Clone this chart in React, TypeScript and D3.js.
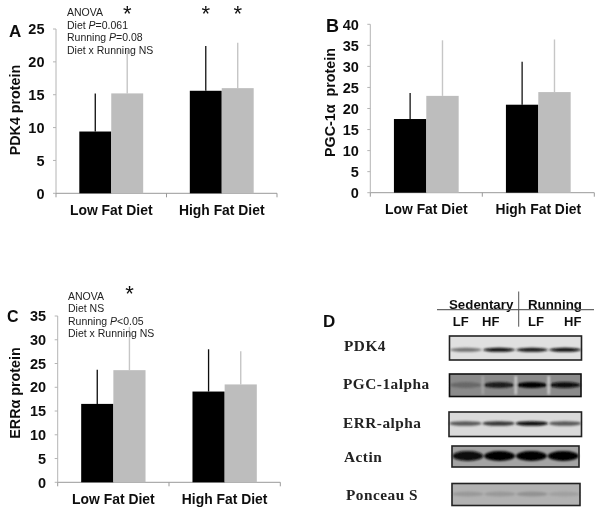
import React from "react";
import * as d3 from "d3";

const groups = ["Low Fat Diet", "High Fat Diet"];
const sedentaryA = [9.4, 15.6];
const runningA = [15.2, 16];
const sedentaryTopA = [15.2, 22.4];
const runningTopA = [21.8, 22.9];
const ticksA = [0, 5, 10, 15, 20, 25];
const notesA = ["ANOVA", "Diet |P|=0.061", "Running |P|=0.08", "Diet x Running NS"];

const sedentaryB = [17.5, 20.9];
const runningB = [23, 23.9];
const sedentaryTopB = [23.7, 31.1];
const runningTopB = [36.2, 36.4];
const ticksB = [0, 5, 10, 15, 20, 25, 30, 35, 40];

const sedentaryC = [16.5, 19.1];
const runningC = [23.6, 20.6];
const sedentaryTopC = [23.7, 28];
const runningTopC = [32.7, 27.6];
const ticksC = [0, 5, 10, 15, 20, 25, 30, 35];
const notesC = ["ANOVA", "Diet NS", "Running |P|<0.05", "Diet x Running NS"];

const lanes = ["LF1", "HF1", "LF2", "HF2"];
const blotNames = ["PDK4", "PGC-1alpha", "ERR-alpha", "Actin", "Ponceau S"];
const blotPdk4 = [0.5, 0.95, 0.9, 0.95];
const blotPgc = [0.25, 0.8, 1, 0.9];
const blotErr = [0.6, 0.75, 0.95, 0.6];
const blotActin = [0.92, 1, 1, 1];
const blotPonceau = [0.14, 0.14, 0.18, 0.1];

const SANS = "'Liberation Sans', Arial, sans-serif";
const SERIF = "'Liberation Serif', 'Times New Roman', serif";

type PanelProps = {
  x0: number; x1: number; y0: number; yTop: number; max: number; ticks: number[];
  sed: number[]; run: number[]; sedTop: number[]; runTop: number[];
  letter: string; lx: number; ly: number; letterSize: number; ylabel: string; ylx: number; yly: number;
  labelY: number; notes?: string[]; nx?: number; ny?: number;
  stars?: [number, number][]; starY?: number;
};

function Panel(p: PanelProps) {
  const y = d3.scaleLinear().domain([0, p.max]).range([p.y0, p.yTop]);
  const band = d3.scaleBand<string>().domain(groups).range([p.x0, p.x1]);
  const inner = d3.scaleBand<string>().domain(["s", "r"]).range([0, band.bandwidth()]).paddingOuter(0.73).paddingInner(0);
  const w = inner.bandwidth();
  return (
    <g>
      <text x={p.lx} y={p.ly} fontFamily={SANS} fontWeight="bold" fontSize={p.letterSize} fill="#111">{p.letter}</text>
      <line x1={p.x0} x2={p.x0} y1={p.yTop} y2={p.y0} stroke="#b4b4b4" />
      <line x1={p.x0} x2={p.x1} y1={p.y0} y2={p.y0} stroke="#999" />
      {p.ticks.map((t) => (
        <g key={t}>
          <line x1={p.x0 - 3} x2={p.x0} y1={y(t)} y2={y(t)} stroke="#b4b4b4" />
          <text x={p.x0 - 11.5} y={y(t) + 5.2} textAnchor="end" fontFamily={SANS} fontWeight="bold" fontSize={14.5} fill="#111">{t}</text>
        </g>
      ))}
      {[p.x0, p.x0 + band.bandwidth(), p.x1].map((v, i) => (
        <line key={i} x1={v} x2={v} y1={p.y0} y2={p.y0 + 4} stroke="#999" />
      ))}
      {groups.map((g, i) => {
        const bx = band(g)!;
        const sx = bx + inner("s")!;
        const rx = bx + inner("r")!;
        return (
          <g key={g}>
            <line x1={sx + w / 2} x2={sx + w / 2} y1={y(p.sed[i])} y2={y(p.sedTop[i])} stroke="#111" strokeWidth={1.3} />
            <line x1={rx + w / 2} x2={rx + w / 2} y1={y(p.run[i])} y2={y(p.runTop[i])} stroke="#c6c6c6" strokeWidth={1.4} />
            <rect x={sx} y={y(p.sed[i])} width={w} height={p.y0 - y(p.sed[i])} fill="#000" />
            <rect x={rx} y={y(p.run[i])} width={w} height={p.y0 - y(p.run[i])} fill="#bdbdbd" />
            <text x={bx + band.bandwidth() / 2} y={p.labelY} textAnchor="middle" fontFamily={SANS} fontWeight="bold" fontSize={13.9} fill="#111">{g}</text>
            {(p.stars ?? []).filter((s) => s[0] === i).map((s) => (
              <text key={s[1]} x={(s[1] === 0 ? sx : rx) + w / 2} y={p.starY} textAnchor="middle" fontFamily={SANS} fontSize={22} fill="#111">*</text>
            ))}
          </g>
        );
      })}
      <text transform={`translate(${p.ylx},${p.yly}) rotate(-90)`} textAnchor="middle" fontFamily={SANS} fontWeight="bold" fontSize={14.3} fill="#111">{p.ylabel}</text>
      {(p.notes ?? []).map((n, i) => {
        const parts = n.split("|");
        return (
          <text key={n} x={p.nx} y={p.ny! + i * 12.6} fontFamily={SANS} fontSize={10.5} fill="#222">
            {parts.map((t, k) => <tspan key={k} fontStyle={k === 1 ? "italic" : "normal"}>{t}</tspan>)}
          </text>
        );
      })}
    </g>
  );
}

type BlotProps = {
  name: string; lx: number; ly: number; x: number; y: number; w: number; h: number;
  bg: string; values: number[]; thick: number; border: string; by: number; gaps?: boolean; blur: string;
};

function Blot(b: BlotProps) {
  const lane = d3.scaleBand<string>().domain(lanes).range([b.x, b.x + b.w]).paddingInner(0.03).paddingOuter(0.01);
  const shade = d3.interpolateRgb(b.bg, "#000");
  return (
    <g>
      <text x={b.lx} y={b.ly} fontFamily={SERIF} fontWeight="bold" fontSize={15.3} fill="#222" letterSpacing={0.5}>{b.name}</text>
      <rect x={b.x} y={b.y} width={b.w} height={b.h} fill={b.bg} />
      <g filter={b.blur}>
        {lanes.map((l, i) => (
          <ellipse key={l} cx={lane(l)! + lane.bandwidth() / 2} cy={b.by} rx={lane.bandwidth() / 2} ry={b.thick} fill={shade(b.values[i])} />
        ))}
        {b.gaps && lanes.slice(1).map((l, i) => (
          <rect key={l} x={lane(l)! - 1} y={b.y + 2} width={2} height={b.h - 4} fill={i === 0 ? "#aaa" : "#ddd"} />
        ))}
      </g>
      <rect x={b.x} y={b.y} width={b.w} height={b.h} fill="none" stroke={b.border} strokeWidth={1.6} />
    </g>
  );
}

export default function App() {
  return (
    <svg width={600} height={513} style={{ position: "absolute", left: 0, top: 0, background: "#fff" }}>
      <defs>
        <filter id="bandBlur" x="-10%" y="-80%" width="120%" height="260%"><feGaussianBlur stdDeviation="1.3 0.8" /></filter>
        <filter id="softBlur" x="0" y="0" width="100%" height="100%"><feGaussianBlur stdDeviation="0.3" /></filter>
      </defs>
      <g filter="url(#softBlur)">
      <Panel x0={56} x1={277} y0={193.3} yTop={29} max={25} ticks={ticksA}
        sed={sedentaryA} run={runningA} sedTop={sedentaryTopA} runTop={runningTopA}
        letter="A" lx={9} ly={37} letterSize={17} ylabel="PDK4 protein" ylx={20} yly={110} labelY={215}
        notes={notesA} nx={67} ny={16} stars={[[0, 1], [1, 0], [1, 1]]} starY={21} />
      <Panel x0={370.3} x1={594.3} y0={192.7} yTop={24.3} max={40} ticks={ticksB}
        sed={sedentaryB} run={runningB} sedTop={sedentaryTopB} runTop={runningTopB}
        letter="B" lx={326} ly={32} letterSize={18} ylabel={"PGC-1α\u00a0\u00a0protein"} ylx={335} yly={102.5} labelY={214} />
      <Panel x0={57.7} x1={280.3} y0={482.3} yTop={316} max={35} ticks={ticksC}
        sed={sedentaryC} run={runningC} sedTop={sedentaryTopC} runTop={runningTopC}
        letter="C" lx={7} ly={322} letterSize={16} ylabel="ERRα protein" ylx={20} yly={393} labelY={503.5}
        notes={notesC} nx={68} ny={299.5} stars={[[0, 1]]} starY={301} />

      <text x={323} y={327} fontFamily={SANS} fontWeight="bold" fontSize={17} fill="#111">D</text>
      <text x={449} y={309} fontFamily={SANS} fontWeight="bold" fontSize={13.3} fill="#111">Sedentary</text>
      <text x={528} y={309} fontFamily={SANS} fontWeight="bold" fontSize={13.3} fill="#111">Running</text>
      <line x1={437} x2={594} y1={309.7} y2={309.7} stroke="#666" strokeWidth={1.2} />
      <line x1={518.7} x2={518.7} y1={291.5} y2={326.7} stroke="#555" strokeWidth={1} />
      {[["LF", 452.7], ["HF", 482], ["LF", 528], ["HF", 564]].map(([t, x], i) => (
        <text key={i} x={x as number} y={326} fontFamily={SANS} fontWeight="bold" fontSize={13} fill="#111">{t}</text>
      ))}
      <Blot name={blotNames[0]} lx={344} ly={351} x={449.5} y={336} w={132} h={24} bg="#e0e0e0" values={blotPdk4} thick={2} border="#222" by={349.8} blur="url(#bandBlur)" />
      <Blot name={blotNames[1]} lx={343} ly={388.5} x={449.5} y={374} w={131.5} h={22.5} bg="#8a8a8a" values={blotPgc} thick={3} border="#111" by={385} gaps blur="url(#bandBlur)" />
      <Blot name={blotNames[2]} lx={343} ly={427.7} x={449} y={412} w={132.5} h={24.5} bg="#dadada" values={blotErr} thick={2.3} border="#222" by={423.5} blur="url(#bandBlur)" />
      <Blot name={blotNames[3]} lx={344} ly={461.7} x={452} y={446} w={127} h={21} bg="#a4a4a4" values={blotActin} thick={5} border="#222" by={456} blur="url(#bandBlur)" />
      <Blot name={blotNames[4]} lx={346} ly={500} x={452} y={483.5} w={128} h={22} bg="#b2b2b2" values={blotPonceau} thick={2.5} border="#222" by={494} blur="url(#bandBlur)" />
      </g>
    </svg>
  );
}
